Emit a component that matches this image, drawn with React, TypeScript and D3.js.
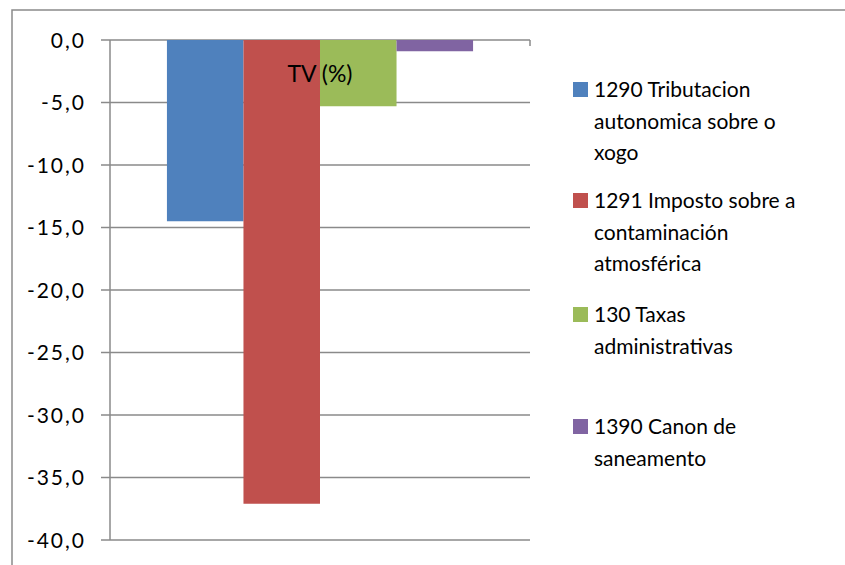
import React from "react";
import * as d3 from "d3";

const categories = ["TV (%)"];
const seriesNames = [
  ["1290 Tributacion", "autonomica sobre o", "xogo"],
  ["1291 Imposto sobre a", "contaminación", "atmosférica"],
  ["130 Taxas", "administrativas"],
  ["1390 Canon de", "saneamento"],
];
const seriesValues = [-14.5, -37.1, -5.3, -0.9];
const seriesColors = ["#4F81BD", "#C0504D", "#9BBB59", "#8064A2"];
const yTicks = [0, -5, -10, -15, -20, -25, -30, -35, -40];
const legendTops = [97, 208, 322, 434];

const W = 845, H = 565;
const left = 110, right = 530, top = 40, bottom = 540;
const FONT = "Lato, sans-serif";

export default function App() {
  const y = d3.scaleLinear().domain([-40, 0]).range([bottom, top]);
  const x0 = d3.scaleBand().domain(categories).range([left, right]).paddingInner(0).paddingOuter(0.186);
  const x1 = d3.scaleBand().domain(seriesNames.map((_, i) => String(i))).range([0, x0.bandwidth()]);
  const fmt = (v: number) => v.toFixed(1).replace(".", ",");
  return (
    <svg width={W} height={H} style={{ position: "absolute", left: 0, top: 0 }}>
      <rect x={0} y={0} width={W} height={H} fill="#fff" />
      <rect x={12} y={10} width={W} height={H} fill="none" stroke="#8a8a8a" strokeWidth={1.5} />
      {yTicks.map((t) => (
        <g key={t}>
          <line x1={left - 9} x2={right} y1={y(t)} y2={y(t)} stroke="#8a8a8a" strokeWidth={1.5} />
          <text x={86} y={y(t) + 7.5} textAnchor="end" fontFamily={FONT} fontSize={21} letterSpacing={2} fill="#000">{fmt(t)}</text>
        </g>
      ))}
      <line x1={left} x2={left} y1={top} y2={bottom} stroke="#8a8a8a" strokeWidth={1.5} />
      <line x1={right} x2={right} y1={top} y2={top + 6} stroke="#8a8a8a" strokeWidth={1.5} />
      {categories.map((c) => (
        <g key={c}>
          {seriesValues.map((v, i) => (
            <rect key={i} x={(x0(c) as number) + (x1(String(i)) as number)} y={y(0)} width={x1.bandwidth()} height={y(v) - y(0)} fill={seriesColors[i]} />
          ))}
          <text x={(x0(c) as number) + x0.bandwidth() / 2} y={82} textAnchor="middle" fontFamily={FONT} fontSize={23} fill="#000">{c}</text>
        </g>
      ))}
      {seriesNames.map((lines, i) => (
        <g key={i}>
          <rect x={573} y={legendTops[i] - 15} width={15} height={15} fill={seriesColors[i]} />
          {lines.map((l, j) => (
            <text key={j} x={594} y={legendTops[i] + j * 31.5} fontFamily={FONT} fontSize={21} fill="#000">{l}</text>
          ))}
        </g>
      ))}
    </svg>
  );
}
